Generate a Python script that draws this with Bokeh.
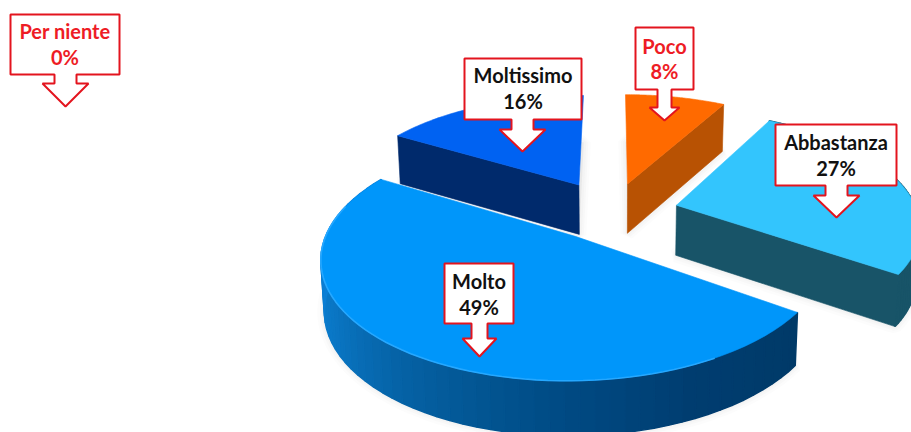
import math
from bokeh.plotting import figure
from bokeh.models import Range1d
from bokeh.embed import file_html
from bokeh.resources import INLINE
from bokeh.core.properties import value

# ---- data (clockwise from 12 o'clock) ----
categories = ["Poco", "Abbastanza", "Molto", "Moltissimo"]
percent = [8, 26.7, 48.9, 16.4]
top_colors = ["#FF6A00", "#33C5FD", "#0096FA", "#0062F2"]
wall_colors = ["#B85203", "#185468", "#00386A", "#002A6C"]
explode_u = [0.065, 0.268, -0.15, -0.145]
explode_v = [0.21, 0.01, -0.26, 0.2]

callout_labels = ["Per niente", "Moltissimo", "Poco", "Abbastanza", "Molto"]
callout_values = ["0%", "16%", "8%", "27%", "49%"]
callout_text_colors = ["#EE1C25", "#111111", "#EE1C25", "#111111", "#111111"]
box_left = [10, 464, 635, 775, 444]
box_right = [119, 581, 693, 896, 513]
box_top = [14, 58, 27, 124, 263]
box_bottom = [74, 119, 89, 185, 323]
shaft_half = [11, 11, 7, 11, 8]
neck_y = [83, 129, 107, 195, 338]
head_half = [23, 23, 15, 23, 17]
tip_x = [65, 522, 664, 836, 479]
tip_y = [106, 151, 120, 217, 356]
line1_y = [30, 74, 45, 141, 280]
line2_y = [56, 100, 70, 167, 306]

# ---- projection of the pie disc onto the page ----
X0, A, D, BD, H = 612.0, 239.0, 6.2, 4240.0, -478.0


def proj(u, v):
    w = D / (D + v)
    return X0 + A * u * w, H + BD / (D + v), w


def lower(x, y, w):
    return X0 + (x - X0) * 0.988, y + 30 + 20 * w


def rim(i, a0, a1, n=60):
    pts = []
    for k in range(n + 1):
        t = math.radians(a0 + (a1 - a0) * k / n)
        pts.append(proj(explode_u[i] + math.sin(t), explode_v[i] + math.cos(t)))
    return pts


def lerp(stops, f):
    f = max(0.0, min(1.0, f)) * (len(stops) - 1)
    j = min(int(f), len(stops) - 2)
    g = f - j
    a, b = stops[j], stops[j + 1]
    ca = [int(a[q:q + 2], 16) for q in (1, 3, 5)]
    cb = [int(b[q:q + 2], 16) for q in (1, 3, 5)]
    return "#%02x%02x%02x" % tuple(round(ca[q] + (cb[q] - ca[q]) * g) for q in range(3))


p = figure(width=911, height=432, x_range=Range1d(0, 911), y_range=Range1d(432, 0),
           x_axis_type=None, y_axis_type=None, toolbar_location=None,
           output_backend="svg", min_border=0, outline_line_color=None,
           background_fill_color="white", border_fill_color="white")
p.grid.visible = False

starts, acc = [], 0.0
for val in percent:
    starts.append(acc)
    acc += val * 3.6

# soft shadows under the disc
for i in [3, 0, 1, 2]:
    a0, a1 = starts[i], starts[i] + percent[i] * 3.6
    apex = proj(explode_u[i], explode_v[i])
    poly = [apex] + rim(i, a0, a1)
    low = [lower(*q) for q in poly]
    for lw, al in ((14, 0.025), (9, 0.03), (5, 0.035)):
        p.patches([[q[0] for q in low]], [[q[1] for q in low]], fill_color="#808080", fill_alpha=al,
                  line_color="#808080", line_alpha=al, line_width=lw)

molto_rim = ["#003A68", "#003D70", "#004C86", "#0560A2", "#0A76C4", "#0B80D8", "#0B80D8"]

for i in [3, 0, 1, 2]:
    a0, a1 = starts[i], starts[i] + percent[i] * 3.6
    apex = proj(explode_u[i], explode_v[i])
    arc = rim(i, a0, a1)
    # outer rim, only for the slices whose rim faces the viewer
    if categories[i] in ("Abbastanza", "Molto"):
        xs, ys, cols = [], [], []
        for k in range(len(arc) - 1):
            q0, q1 = arc[k], arc[k + 1]
            l0, l1 = lower(*q0), lower(*q1)
            xs.append([q0[0], q1[0], l1[0], l0[0]])
            ys.append([q0[1], q1[1], l1[1], l0[1]])
            cols.append(lerp(molto_rim, k / (len(arc) - 2)) if categories[i] == "Molto" else wall_colors[i])
        p.patches(xs, ys, fill_color=cols, line_color=cols, line_width=1.5)
    # cut wall that faces the viewer
    if categories[i] in ("Poco", "Abbastanza", "Moltissimo"):
        edge = arc[0] if categories[i] == "Moltissimo" else arc[-1]
        l0, l1 = lower(*apex), lower(*edge)
        p.patches([[apex[0], edge[0], l1[0], l0[0]]], [[apex[1], edge[1], l1[1], l0[1]]],
                  fill_color=wall_colors[i], line_color=wall_colors[i], line_width=0.6)
    # top face
    p.patches([[apex[0]] + [q[0] for q in arc]], [[apex[1]] + [q[1] for q in arc]],
              fill_color=top_colors[i], line_color=top_colors[i], line_width=0.6)
    if categories[i] == "Molto":
        front = rim(i, 150, 285)
        p.line([q[0] for q in front], [q[1] for q in front], line_color="#26A8FF", line_width=1.6)

# callouts
for i in range(len(callout_labels)):
    cx = tip_x[i]
    l, r, t, b = box_left[i], box_right[i], box_top[i], box_bottom[i]
    sh, hh, ny = shaft_half[i], head_half[i], neck_y[i]
    px = [l, r, r, cx + sh, cx + sh, cx + hh, cx, cx - hh, cx - sh, cx - sh, l]
    py = [t, t, b, b, ny, ny, tip_y[i], ny, ny, b, b]
    p.patches([px], [py], fill_color="white", line_color="#E3141E", line_width=2)
    mid = (l + r) / 2
    for ly, txt in ((line1_y[i], callout_labels[i]), (line2_y[i], callout_values[i])):
        p.text([mid], [ly], text=[txt], text_align="center", text_baseline="middle",
               text_color=callout_text_colors[i], text_font=value("Lato"), text_font_style="bold",
               text_font_size="20px")

open("out.html", "w").write(file_html(p, INLINE))
